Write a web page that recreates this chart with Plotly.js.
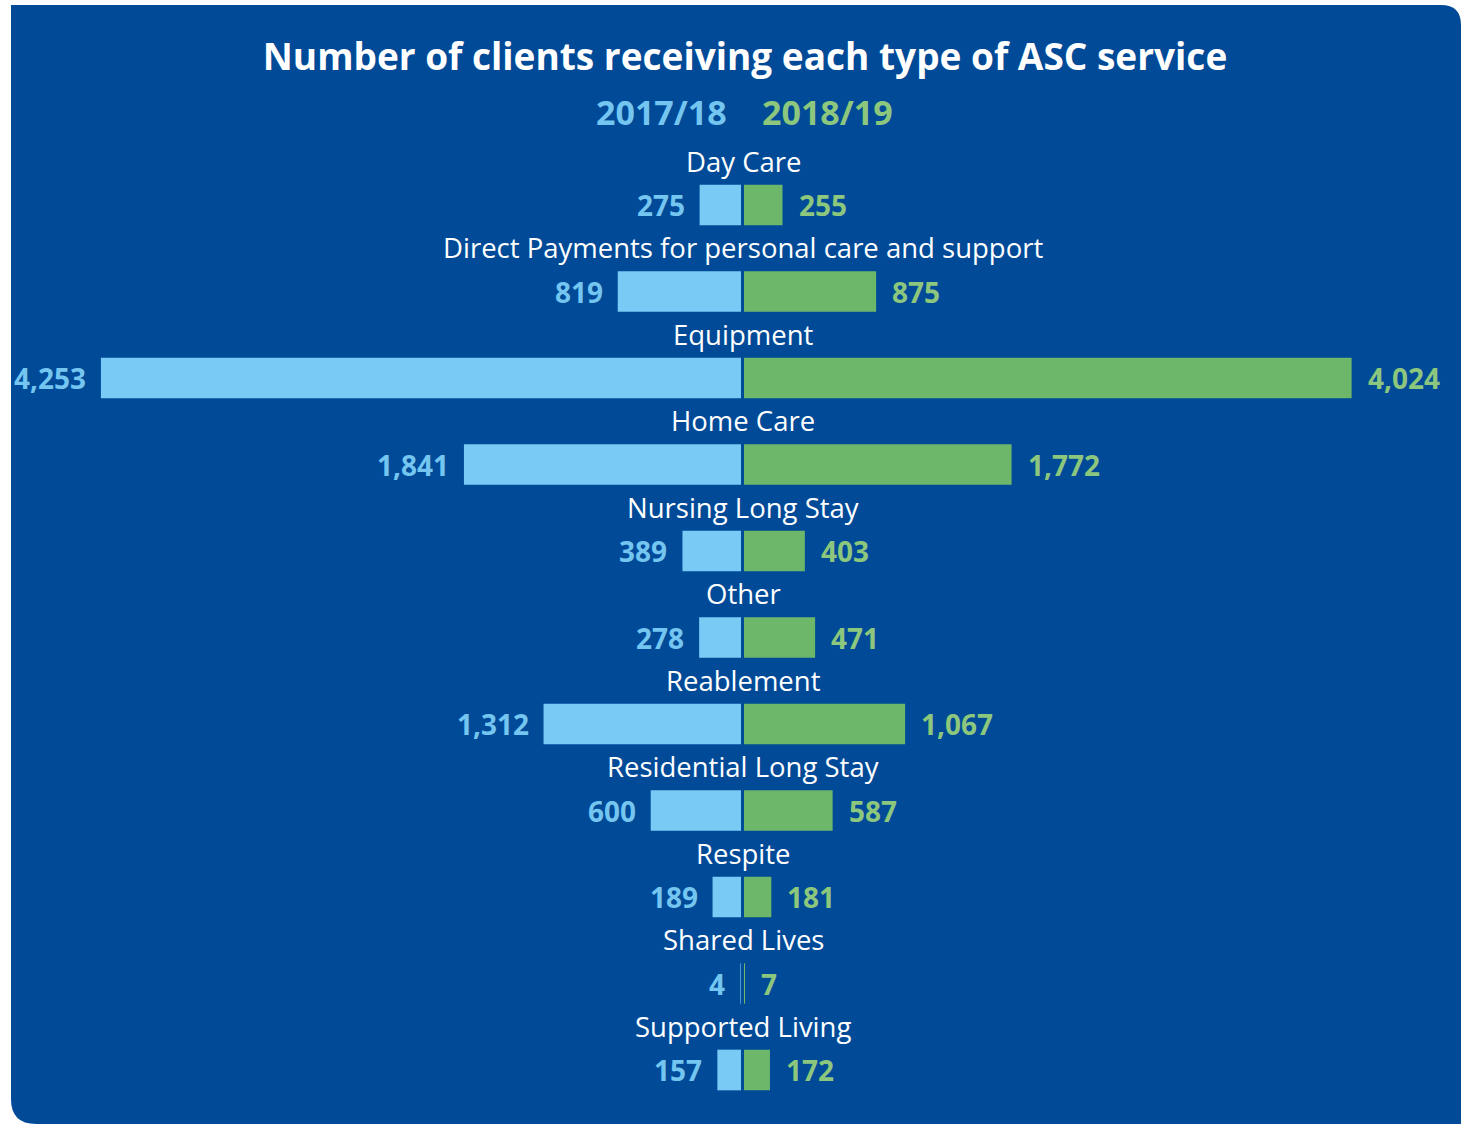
<!DOCTYPE html>
<html>
<head>
<meta charset="utf-8">
<script src="https://cdn.plot.ly/plotly-3.0.1.min.js"></script>
<style>
  html, body { margin: 0; padding: 0; background: #ffffff; }
  #chart { width: 1461px; height: 1124px; }
</style>
</head>
<body>
<div id="chart"></div>
<script>
// DATA
var services = ['Day Care', 'Direct Payments for personal care and support', 'Equipment', 'Home Care',
  'Nursing Long Stay', 'Other', 'Reablement', 'Residential Long Stay', 'Respite', 'Shared Lives', 'Supported Living'];
var clients1718 = [275, 819, 4253, 1841, 389, 278, 1312, 600, 189, 4, 157];
var clients1819 = [255, 875, 4024, 1772, 403, 471, 1067, 587, 181, 7, 172];
var yearLabels = ['2017/18', '2018/19'];

var W = 1461, H = 1124;
var BG = '#004a98';
var BLUE = '#79cbf5';
var GREEN = '#6db76b';
var BLUE_TXT = '#74c6f0';
var GREEN_TXT = '#8cc77d';
var FONT = 'Open Sans, Noto Sans, sans-serif';

// px -> paper helpers
function px(x) { return x / W; }
function py(y) { return 1 - y / H; }

var CHART = document.getElementById('chart');

var trace1 = {
  y: services,
  x: clients1718,
  name: yearLabels[0],
  type: 'bar',
  orientation: 'h',
  xaxis: 'x',
  yaxis: 'y',
  width: 0.47,
  marker: {color: BLUE},
  hoverinfo: 'skip'
};

var trace2 = {
  y: services,
  x: clients1819,
  name: yearLabels[1],
  type: 'bar',
  orientation: 'h',
  xaxis: 'x2',
  yaxis: 'y',
  width: 0.47,
  marker: {color: GREEN},
  hoverinfo: 'skip'
};

var data = [trace1, trace2];

// labels
var annotations = [];
services.forEach(function (s, i) {
  annotations.push({
    x: px(743), xref: 'paper', y: s, yref: 'y', yshift: 44,
    text: s, showarrow: false, xanchor: 'center', yanchor: 'middle',
    font: {family: FONT, size: 27.5, color: '#ffffff'}
  });
  annotations.push({
    x: clients1718[i], xref: 'x', y: s, yref: 'y', xshift: -13,
    text: clients1718[i].toLocaleString('en-GB'), showarrow: false, xanchor: 'right', yanchor: 'middle',
    font: {family: FONT, size: 28, color: BLUE_TXT, weight: 'bold'}
  });
  annotations.push({
    x: clients1819[i], xref: 'x2', y: s, yref: 'y', xshift: 14,
    text: clients1819[i].toLocaleString('en-GB'), showarrow: false, xanchor: 'left', yanchor: 'middle',
    font: {family: FONT, size: 28, color: GREEN_TXT, weight: 'bold'}
  });
});

// year legend under title
annotations.push({
  x: px(729), xref: 'paper', y: py(112), yref: 'paper', xanchor: 'right', yanchor: 'middle',
  text: '<b>' + yearLabels[0] + '</b>', showarrow: false,
  font: {family: FONT, size: 34, color: BLUE_TXT}
});
annotations.push({
  x: px(760), xref: 'paper', y: py(112), yref: 'paper', xanchor: 'left', yanchor: 'middle',
  text: '<b>' + yearLabels[1] + '</b>', showarrow: false,
  font: {family: FONT, size: 34, color: GREEN_TXT}
});

// rounded blue panel
var panel = 'M ' + px(11) + ',' + py(5) +
  ' L ' + px(1441) + ',' + py(5) +
  ' Q ' + px(1461) + ',' + py(5) + ' ' + px(1461) + ',' + py(25) +
  ' L ' + px(1461) + ',' + py(1124) +
  ' L ' + px(36) + ',' + py(1124) +
  ' Q ' + px(11) + ',' + py(1124) + ' ' + px(11) + ',' + py(1099) + ' Z';

var layout = {
  width: W,
  height: H,
  margin: {l: 0, r: 0, t: 0, b: 0},
  paper_bgcolor: '#ffffff',
  plot_bgcolor: 'rgba(0,0,0,0)',
  showlegend: false,
  barmode: 'overlay',
  title: {
    text: '<b>Number of clients receiving each type of ASC service</b>',
    x: px(745), xanchor: 'center', y: py(57), yanchor: 'middle',
    font: {family: FONT, size: 37, color: '#ffffff'}
  },
  xaxis: {domain: [0, px(741)], range: [741 / 0.1505, 0], visible: false, fixedrange: true},
  xaxis2: {domain: [px(744), 1], range: [0, 717 / 0.151], anchor: 'y', visible: false, fixedrange: true},
  yaxis: {type: 'category', range: [10 + 54 / 86.5, -205 / 86.5], visible: false, fixedrange: true},
  shapes: [{type: 'path', path: panel, xref: 'paper', yref: 'paper', fillcolor: BG, line: {width: 0}, layer: 'below'}],
  annotations: annotations
};

Plotly.newPlot(CHART, data, layout, {staticPlot: true});
</script>
</body>
</html>
